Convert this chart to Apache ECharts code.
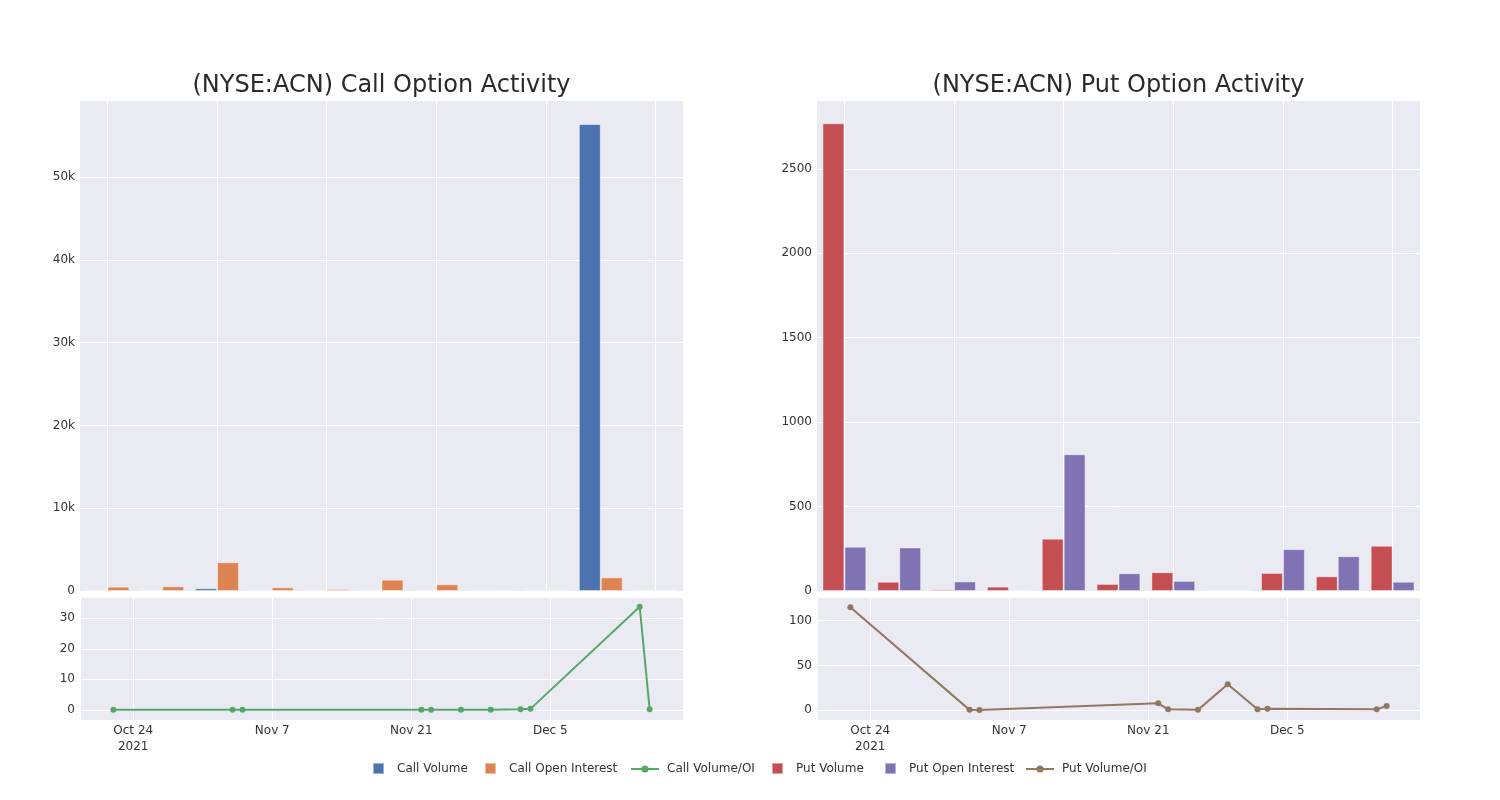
<!DOCTYPE html>
<html>
<head>
<meta charset="utf-8">
<script src="https://cdn.jsdelivr.net/npm/echarts@6/dist/echarts.min.js"></script>
<style>html,body{margin:0;padding:0;background:#fff;}#c{width:1500px;height:800px;}</style>
</head>
<body>
<div id="c"></div>
<script>
const dates = ['2021-10-22','2021-11-03','2021-11-04','2021-11-22','2021-11-23','2021-11-26','2021-11-29','2021-12-02','2021-12-03','2021-12-14','2021-12-15'];
const callVolume = [90, 70, 330, 0, 0, 0, 90, 10, 5, 56400, 40];
const callOpenInterest = [520, 570, 3470, 450, 240, 1370, 810, 60, 30, 1650, 90];
const callRatio = [0, 0, 0, 0, 0, 0, 0, 0.2, 0.3, 33.8, 0.2];
const putVolume = [2770, 55, 10, 26, 310, 42, 111, 6, 107, 87, 268];
const putOpenInterest = [262, 258, 57, 2, 810, 105, 60, 6, 248, 206, 55];
const putRatio = [115, 0.5, 0.3, 7.8, 1.1, 0.5, 29, 1.1, 1.7, 1.1, 4.8];
const titles = ['(NYSE:ACN) Call Option Activity', '(NYSE:ACN) Put Option Activity'];

const FONT = 'DejaVu Sans';
const DAY = 86400000;
const REF = Date.parse('2021-10-24');
const toWeeks = d => (Date.parse(d) - REF) / (7 * DAY);
const MONTHS = ['Jan','Feb','Mar','Apr','May','Jun','Jul','Aug','Sep','Oct','Nov','Dec'];
const xs = dates.map(toWeeks);
const padW = 3.36 / 7;
const xMin = Math.min(...xs) - padW, xMax = Math.max(...xs) + padW;
const firstTick = Math.ceil(xMin / 2) * 2;

const chart = echarts.init(document.getElementById('c'));
const gridBg = {show: true, backgroundColor: '#eaeaf2', borderWidth: 0};
const labelStyle = {color: '#333', fontFamily: FONT, fontSize: 12};
const white = {show: true, lineStyle: {color: '#fff', width: 1}};

function catAxis(gi) {
  return {type: 'category', gridIndex: gi, data: dates, boundaryGap: true,
    axisLine: {show: false}, axisTick: {show: false}, axisLabel: {show: false},
    splitLine: {show: true, interval: 1, alignWithLabel: true, lineStyle: {color: '#fff', width: 1}}};
}
function weekAxis(gi) {
  return {type: 'value', gridIndex: gi, min: xMin, max: xMax, minInterval: 2, maxInterval: 2,
    axisLine: {show: false}, axisTick: {show: false}, splitLine: white,
    axisLabel: Object.assign({}, labelStyle, {margin: 3, lineHeight: 16, showMinLabel: false, showMaxLabel: false,
      formatter: v => {
        const d = new Date(REF + v * 7 * DAY);
        const s = MONTHS[d.getUTCMonth()] + ' ' + d.getUTCDate();
        return Math.abs(v - firstTick) < 1e-6 ? s + '\n' + d.getUTCFullYear() : s;
      }})};
}
function valAxis(gi, opts) {
  return Object.assign({type: 'value', gridIndex: gi,
    axisLine: {show: false}, axisTick: {show: false}, splitLine: white,
    axisLabel: Object.assign({}, labelStyle, {margin: 5, showMinLabel: opts.hideMin, showMaxLabel: false, formatter: opts.fmt})}, opts.axis);
}
const kfmt = v => v === 0 ? '0' : (v / 1000) + 'k';
const plain = v => String(Math.round(v * 1000) / 1000);
const barStyle = c => ({color: c, borderColor: 'rgba(255,255,255,0.45)', borderWidth: 1});

function legendItem(name, left, isLine) {
  return {data: [name], left: left, top: isLine ? 763 : 762, orient: 'horizontal', padding: 0,
    itemWidth: isLine ? 28 : 11, itemHeight: isLine ? 9 : 11,
    icon: isLine ? undefined : 'rect',
    textStyle: {fontFamily: FONT, fontSize: 12, color: '#333', padding: [0, 0, 0, isLine ? 3 : 8]}};
}
const titleStyle = {fontFamily: FONT, fontSize: 24, fontWeight: 'normal', color: '#2a2a2a'};

chart.setOption({
  animation: false,
  backgroundColor: '#fff',
  title: [
    {text: titles[0], left: 381.5, top: 74, padding: 0, textAlign: 'center', textStyle: titleStyle},
    {text: titles[1], left: 1118.5, top: 74, padding: 0, textAlign: 'center', textStyle: titleStyle}
  ],
  legend: [
    legendItem('Call Volume', 372, false),
    legendItem('Call Open Interest', 484, false),
    legendItem('Call Volume/OI', 630, true),
    legendItem('Put Volume', 771, false),
    legendItem('Put Open Interest', 884, false),
    legendItem('Put Volume/OI', 1025, true)
  ],
  grid: [
    Object.assign({left: 80, top: 100, width: 603, height: 491}, gridBg),
    Object.assign({left: 80, top: 597, width: 603, height: 123}, gridBg),
    Object.assign({left: 817, top: 100, width: 603, height: 491}, gridBg),
    Object.assign({left: 817, top: 597, width: 603, height: 123}, gridBg)
  ],
  xAxis: [catAxis(0), weekAxis(1), catAxis(2), weekAxis(3)],
  yAxis: [
    valAxis(0, {hideMin: true, fmt: kfmt, axis: {min: 0, max: 59300, interval: 10000}}),
    valAxis(1, {hideMin: false, fmt: plain, axis: {min: -3.35, max: 37.0, minInterval: 10, maxInterval: 10}}),
    valAxis(2, {hideMin: true, fmt: plain, axis: {min: 0, max: 2908, interval: 500}}),
    valAxis(3, {hideMin: false, fmt: plain, axis: {min: -10.8, max: 126.4, minInterval: 50, maxInterval: 50}})
  ],
  series: [
    {name: 'Call Volume', type: 'bar', xAxisIndex: 0, yAxisIndex: 0, data: callVolume, barGap: '0%', barCategoryGap: '20%', itemStyle: barStyle('#4c72b0')},
    {name: 'Call Open Interest', type: 'bar', xAxisIndex: 0, yAxisIndex: 0, data: callOpenInterest, barGap: '0%', barCategoryGap: '20%', itemStyle: barStyle('#dd8452')},
    {name: 'Call Volume/OI', type: 'line', xAxisIndex: 1, yAxisIndex: 1, data: xs.map((x, i) => [x, callRatio[i]]),
      symbol: 'circle', symbolSize: 6, itemStyle: {color: '#55a868'}, lineStyle: {color: '#55a868', width: 2}},
    {name: 'Put Volume', type: 'bar', xAxisIndex: 2, yAxisIndex: 2, data: putVolume, barGap: '0%', barCategoryGap: '20%', itemStyle: barStyle('#c44e52')},
    {name: 'Put Open Interest', type: 'bar', xAxisIndex: 2, yAxisIndex: 2, data: putOpenInterest, barGap: '0%', barCategoryGap: '20%', itemStyle: barStyle('#8172b3')},
    {name: 'Put Volume/OI', type: 'line', xAxisIndex: 3, yAxisIndex: 3, data: xs.map((x, i) => [x, putRatio[i]]),
      symbol: 'circle', symbolSize: 6, itemStyle: {color: '#937860'}, lineStyle: {color: '#937860', width: 2}}
  ]
});
</script>
</body>
</html>
